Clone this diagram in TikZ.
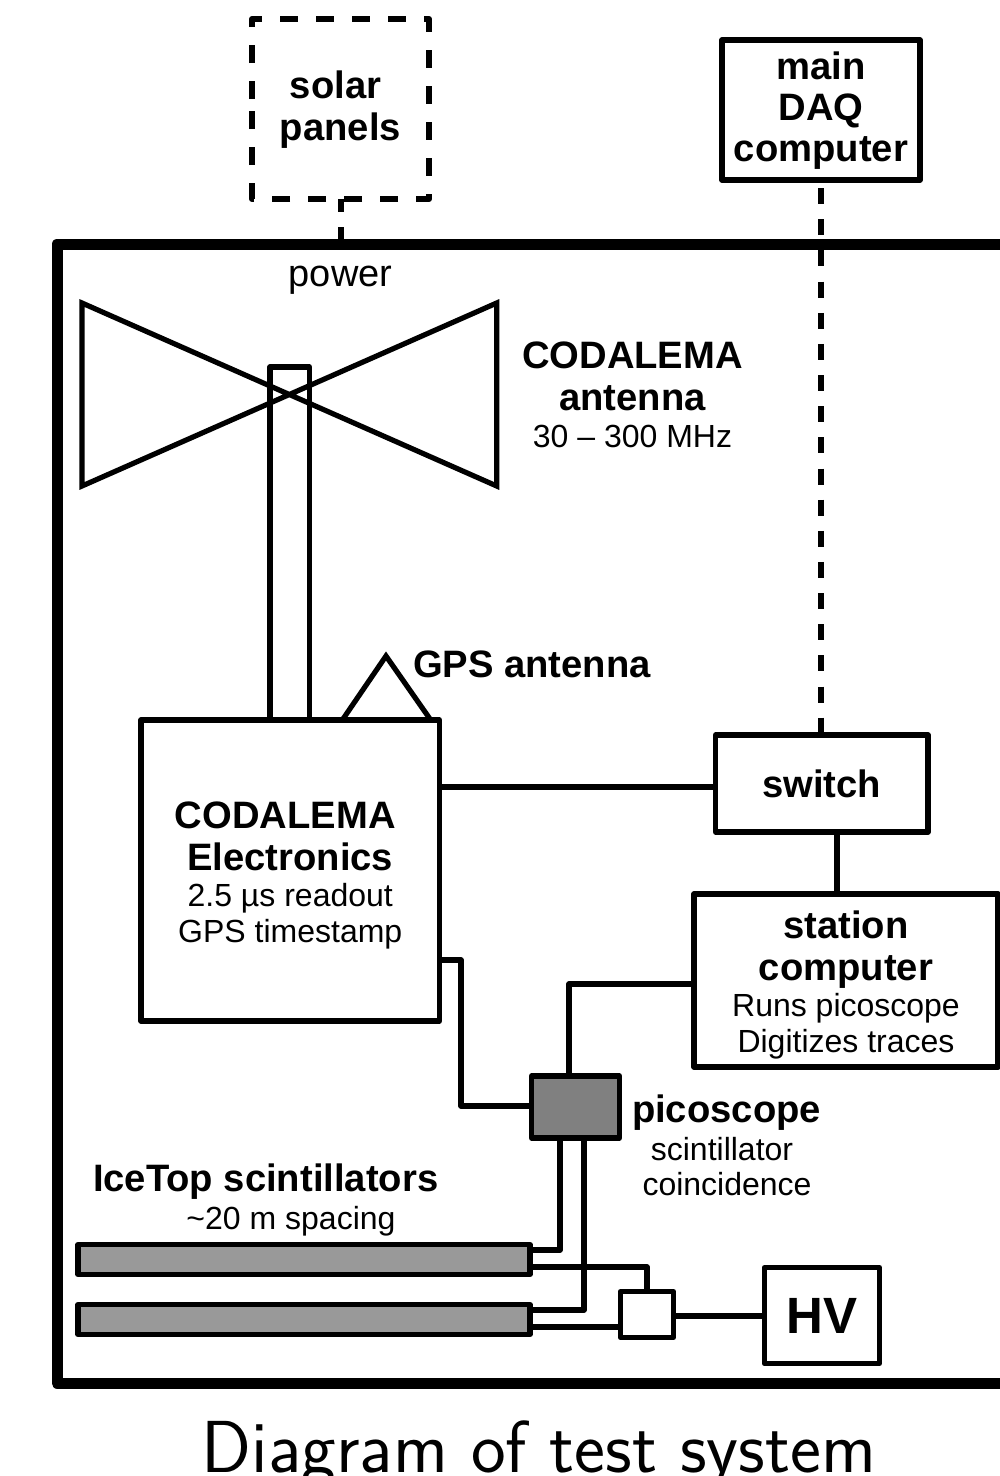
\documentclass[tikz,border=0pt]{standalone}
\usepackage{fontspec}
\setmainfont{Liberation Sans}
\usetikzlibrary{calc}
\newcommand{\subt}{\fontsize{32}{35}\selectfont\mdseries}
\tikzset{
  wire/.style={line width=5.2pt,line join=round},
  dashwire/.style={line width=6pt,line join=round,dash pattern=on 18pt off 18pt},
  linkdash/.style={line width=6pt,dash pattern=on 16pt off 15.15pt},
  boxn/.style={draw,line width=5.2pt,line join=round,rectangle,inner sep=0pt,outer sep=0pt,align=center,fill=white},
  txt/.style={inner sep=0pt,outer sep=0pt,align=center},
  bigt/.style={font=\fontsize{38.2}{41.3}\selectfont\bfseries},
  smallt/.style={font=\fontsize{32}{35}\selectfont},
}
\begin{document}
\begin{tikzpicture}[x=1pt,y=-1pt]
\useasboundingbox (0,0) rectangle (1000,1476);
\clip (0,0) rectangle (1000,1476);
% frame
\node[draw,line width=11pt,line join=round,rectangle,inner sep=0pt,outer sep=0pt,minimum width=1043pt,minimum height=1139pt] (frame) at (578.5,813.5) {};
% top boxes
\node[txt,minimum width=177pt,minimum height=180pt,bigt] (solar) at (340.5,109) {\begin{tabular}{@{}c@{}}\noalign{\vskip 4.5pt}solar\kern10pt\\[1pt]panels\end{tabular}};
\draw[dashwire] (solar.west |- 0,99) -- (solar.north west) -- (solar.north east) -- (solar.south east) -- (solar.south west) -- cycle;
\node[boxn,minimum width=198pt,minimum height=140pt,bigt] (daq) at (821,110) {\begin{tabular}{@{}c@{}}\noalign{\vskip 4.5pt}main\\DAQ\\computer\end{tabular}};
% antenna
\node[draw,line width=5.2pt,line join=round,rectangle,inner sep=0pt,outer sep=0pt,minimum width=39.5pt,minimum height=353pt] (mast) at (289.75,543.5) {};
\draw[wire,line join=miter] (82,303) -- (496.7,486) -- (496.7,303) -- (82,486) -- cycle;
% electronics
\node[boxn,minimum width=298.5pt,minimum height=301pt,bigt] (elec) at (290.25,870.5) {\begin{tabular}{@{}c@{}}\noalign{\vskip 13.5pt}CODALEMA\kern10pt\\Electronics\\[-4.5pt]\subt 2.5 µs readout\\[-6pt]\subt GPS timestamp\end{tabular}};
\draw[wire,line join=miter] (343,719) -- (386,656) -- (430,719);
\node[boxn,minimum width=212.5pt,minimum height=97pt,bigt] (switch) at (821.75,783.5) {switch};
\node[boxn,minimum width=304pt,minimum height=173pt,bigt] (station) at (846,980.5) {\begin{tabular}{@{}c@{}}\noalign{\vskip 13.5pt}station\\computer\\[-4.5pt]\subt Runs picoscope\\[-6pt]\subt Digitizes traces\end{tabular}};
\node[boxn,fill=black!50!white,minimum width=88pt,minimum height=62pt] (pico) at (575.5,1107) {};
\node[boxn,fill=black!40!white,minimum width=452pt,minimum height=30pt] (scinta) at (304,1259.5) {};
\node[boxn,fill=black!40!white,minimum width=452pt,minimum height=30pt] (scintb) at (304,1319.5) {};
\node[boxn,minimum width=53pt,minimum height=46pt] (split) at (647,1314.5) {};
\node[boxn,minimum width=115pt,minimum height=96pt,font=\fontsize{51}{51}\selectfont\bfseries] (hv) at (822,1315.5) {HV};
% connectors
\draw[linkdash,dash phase=3pt] (solar.south) -- (solar.south |- frame.north);
\draw[linkdash,dash phase=23pt] (daq.south) -- (daq.south |- switch.north);
\draw[wire] (elec.east |- 0,787) -- (switch.west |- 0,787);
\draw[wire] (switch.south -| 837,0) -- (station.north -| 837,0);
\draw[wire] (station.west |- 0,984) -| (pico.north -| 569,0);
\draw[wire] (elec.east |- 0,960) -| (461,1106) -- (pico.west |- 0,1106);
\draw[wire] (pico.south -| 560,0) |- (scinta.east |- 0,1250);
\draw[wire] (pico.south -| 584,0) |- (scintb.east |- 0,1310);
\draw[wire] (scinta.east |- 0,1267) -| (split.north);
\draw[wire] (scintb.east |- 0,1327) -- (split.west |- 0,1327);
\draw[wire] (split.east |- 0,1316) -- (hv.west |- 0,1316);
% labels
\node[txt,font=\fontsize{38}{40}\selectfont] (lpower) at (340.5,280) {power};
\node[txt,bigt] (lant) at (632.5,400) {\begin{tabular}{@{}c@{}}CODALEMA\\antenna\\[-3.5pt]\subt 30 – 300 MHz\end{tabular}};
\node[txt,bigt,anchor=west] (lgps) at (413,664) {GPS antenna};
\node[txt,bigt,anchor=west] (lpico) at (632,1113) {picoscope};
\node[txt,smallt] (lpicoa) at (727,1171) {\begin{tabular}{@{}c@{}}scintillator\kern10pt\\coincidence\end{tabular}};
\node[txt,bigt,anchor=west] (lice) at (93,1182) {IceTop scintillators};
\node[txt,smallt] (licea) at (291,1221) {\textasciitilde20 m spacing};
\node[txt,anchor=base,font=\sffamily\fontsize{73.7}{74}\selectfont] (title) at (539,1472) {Diagram of test system};
\end{tikzpicture}
\end{document}
